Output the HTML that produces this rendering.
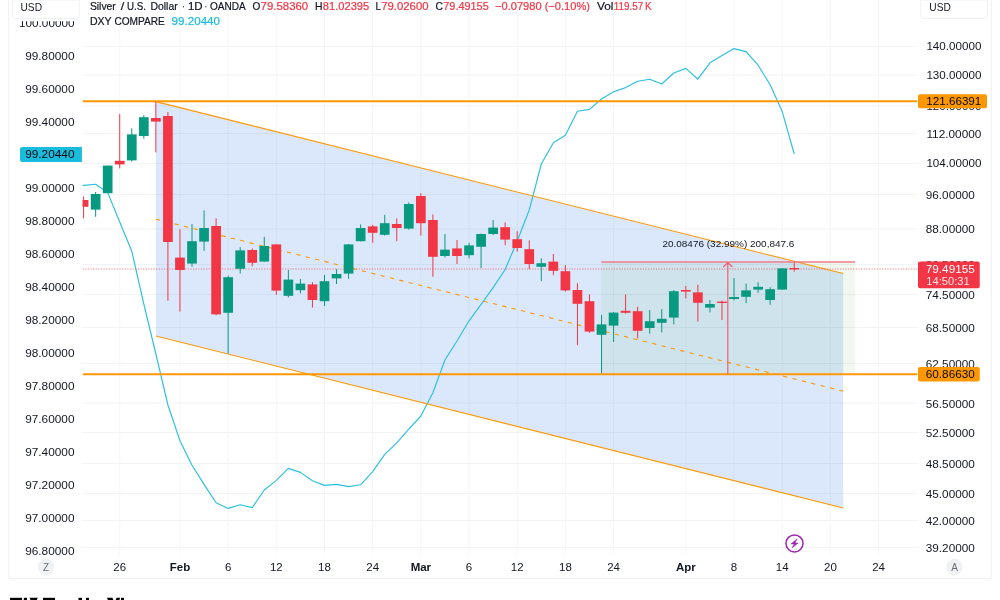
<!DOCTYPE html>
<html><head><meta charset="utf-8"><title>Chart</title>
<style>html,body{margin:0;padding:0;background:#fff;width:1000px;height:600px;overflow:hidden;font-family:"Liberation Sans",sans-serif}</style>
</head><body>
<div style="position:absolute;left:0;top:0;width:1000px;height:600px;will-change:transform;transform:translateZ(0)">
<svg width="1000" height="600" viewBox="0 0 1000 600" style="position:absolute;left:0;top:0;font-family:'Liberation Sans',sans-serif">
<defs><clipPath id="pane"><rect x="82.5" y="0" width="835.0" height="554.5"/></clipPath></defs>
<path d="M8.75 0V578.5H991.25V0" fill="none" stroke="#eff0f3" stroke-width="1"/>
<path d="M82.5 46.5H917.5M82.5 75H917.5M82.5 106H917.5M82.5 133.5H917.5M82.5 163.5H917.5M82.5 194.5H917.5M82.5 229H917.5M82.5 264.5H917.5M82.5 294.5H917.5M82.5 327.5H917.5M82.5 363.5H917.5M82.5 403H917.5M82.5 432.5H917.5M82.5 463.5H917.5M82.5 493.5H917.5M82.5 520.5H917.5M82.5 547.5H917.5" stroke="#f2f3f3" stroke-width="1" fill="none"/>
<path d="M119.73 0V554.5M179.96 0V554.5M228.14 0V554.5M276.32 0V554.5M324.50 0V554.5M372.68 0V554.5M420.86 0V554.5M469.04 0V554.5M517.22 0V554.5M565.40 0V554.5M613.58 0V554.5M685.85 0V554.5M734.03 0V554.5M782.21 0V554.5M830.39 0V554.5M878.57 0V554.5" stroke="#f5f6f6" stroke-width="1" fill="none"/>
<g clip-path="url(#pane)">
<polygon points="155.9,101.6 843.2,273.56 843.2,507.96 155.9,336.0" fill="rgba(40,120,240,0.17)"/>
<rect x="601.3" y="262.0" width="253.9000000000001" height="112.19999999999999" fill="rgba(76,175,80,0.085)"/>
<polyline points="71.55,186.6 83.60,185.40 95.64,184.30 107.69,192.60 119.73,222.00 131.78,251.20 143.82,304.00 155.87,354.00 167.91,405.00 179.96,440.80 192.00,465.20 204.05,484.40 216.09,502.80 228.14,508.40 240.19,504.80 252.23,507.60 264.27,490.00 276.32,480.40 288.37,468.40 300.41,472.40 312.45,480.80 324.50,485.40 336.54,484.40 348.59,486.60 360.63,484.80 372.68,471.60 384.73,454.40 396.77,442.80 408.81,429.20 420.86,416.00 432.90,392.80 444.95,360.00 457.00,341.00 469.04,320.80 481.09,304.40 493.13,287.60 505.17,269.50 517.22,241.00 529.26,210.00 541.31,164.00 553.36,142.80 565.40,135.20 577.44,111.20 589.49,109.40 601.53,99.00 613.58,91.80 625.62,87.60 637.67,81.20 649.72,79.20 661.76,84.00 673.81,73.00 685.85,68.40 697.89,79.20 709.94,62.80 721.99,55.40 734.03,48.60 746.08,51.60 758.12,65.20 770.16,84.80 782.21,111.60 794.25,154.00" fill="none" stroke="#2ac0de" stroke-width="1.15" stroke-linejoin="round"/>
<line x1="155.9" y1="101.6" x2="843.2" y2="273.56" stroke="#ff9800" stroke-width="1.1"/>
<line x1="155.9" y1="336.0" x2="843.2" y2="507.96" stroke="#ff9800" stroke-width="1.1"/>
<line x1="155.9" y1="219.2" x2="843.2" y2="391.16" stroke="#ff9800" stroke-width="1.1" stroke-dasharray="4.3 5.35"/>
<line x1="82.5" y1="101.2" x2="917.5" y2="101.2" stroke="#ff9800" stroke-width="2"/>
<line x1="82.5" y1="374.2" x2="917.5" y2="374.2" stroke="#ff9800" stroke-width="2"/>
<line x1="82.5" y1="269" x2="917.5" y2="269" stroke="#f23645" stroke-width="1" stroke-dasharray="1.3 1.33" opacity="0.6"/>
<line x1="83.60" y1="196.4" x2="83.60" y2="218.4" stroke="#f23645" stroke-width="1"/>
<rect x="78.75" y="200" width="9.7" height="6.80" fill="#f23645"/>
<line x1="95.64" y1="192" x2="95.64" y2="216.8" stroke="#089981" stroke-width="1"/>
<rect x="90.80" y="194" width="9.7" height="15.60" fill="#089981"/>
<line x1="107.69" y1="165.6" x2="107.69" y2="193.2" stroke="#089981" stroke-width="1"/>
<rect x="102.84" y="165.6" width="9.7" height="27.60" fill="#089981"/>
<line x1="119.73" y1="114" x2="119.73" y2="168.4" stroke="#f23645" stroke-width="1"/>
<rect x="114.88" y="160.8" width="9.7" height="3.60" fill="#f23645"/>
<line x1="131.78" y1="128.4" x2="131.78" y2="161.6" stroke="#089981" stroke-width="1"/>
<rect x="126.93" y="134.4" width="9.7" height="26.00" fill="#089981"/>
<line x1="143.82" y1="115.2" x2="143.82" y2="138.8" stroke="#089981" stroke-width="1"/>
<rect x="138.97" y="117.2" width="9.7" height="18.80" fill="#089981"/>
<line x1="155.87" y1="101.6" x2="155.87" y2="152.4" stroke="#f23645" stroke-width="1"/>
<rect x="151.02" y="118" width="9.7" height="3.60" fill="#f23645"/>
<line x1="167.91" y1="112" x2="167.91" y2="300.8" stroke="#f23645" stroke-width="1"/>
<rect x="163.06" y="116" width="9.7" height="126.00" fill="#f23645"/>
<line x1="179.96" y1="229.2" x2="179.96" y2="311.6" stroke="#f23645" stroke-width="1"/>
<rect x="175.11" y="257.6" width="9.7" height="12.40" fill="#f23645"/>
<line x1="192.00" y1="224" x2="192.00" y2="266.8" stroke="#089981" stroke-width="1"/>
<rect x="187.16" y="241.2" width="9.7" height="22.40" fill="#089981"/>
<line x1="204.05" y1="210.4" x2="204.05" y2="250.8" stroke="#089981" stroke-width="1"/>
<rect x="199.20" y="228" width="9.7" height="13.60" fill="#089981"/>
<line x1="216.09" y1="218.4" x2="216.09" y2="315.2" stroke="#f23645" stroke-width="1"/>
<rect x="211.25" y="226" width="9.7" height="88.40" fill="#f23645"/>
<line x1="228.14" y1="275.6" x2="228.14" y2="353.6" stroke="#089981" stroke-width="1"/>
<rect x="223.29" y="277.2" width="9.7" height="35.60" fill="#089981"/>
<line x1="240.19" y1="247.2" x2="240.19" y2="273.6" stroke="#089981" stroke-width="1"/>
<rect x="235.34" y="250.4" width="9.7" height="18.40" fill="#089981"/>
<line x1="252.23" y1="248.4" x2="252.23" y2="266.4" stroke="#f23645" stroke-width="1"/>
<rect x="247.38" y="250" width="9.7" height="12.80" fill="#f23645"/>
<line x1="264.27" y1="236.8" x2="264.27" y2="261.6" stroke="#089981" stroke-width="1"/>
<rect x="259.42" y="246" width="9.7" height="15.60" fill="#089981"/>
<line x1="276.32" y1="244.4" x2="276.32" y2="294.8" stroke="#f23645" stroke-width="1"/>
<rect x="271.47" y="244.4" width="9.7" height="46.20" fill="#f23645"/>
<line x1="288.37" y1="270" x2="288.37" y2="297.4" stroke="#089981" stroke-width="1"/>
<rect x="283.51" y="279.6" width="9.7" height="16.20" fill="#089981"/>
<line x1="300.41" y1="279" x2="300.41" y2="293.4" stroke="#089981" stroke-width="1"/>
<rect x="295.56" y="283.6" width="9.7" height="6.60" fill="#089981"/>
<line x1="312.45" y1="282.2" x2="312.45" y2="307.6" stroke="#f23645" stroke-width="1"/>
<rect x="307.60" y="284.4" width="9.7" height="15.60" fill="#f23645"/>
<line x1="324.50" y1="274.8" x2="324.50" y2="306" stroke="#089981" stroke-width="1"/>
<rect x="319.65" y="281.2" width="9.7" height="20.00" fill="#089981"/>
<line x1="336.54" y1="269.2" x2="336.54" y2="284" stroke="#089981" stroke-width="1"/>
<rect x="331.69" y="274" width="9.7" height="4.40" fill="#089981"/>
<line x1="348.59" y1="244" x2="348.59" y2="278.8" stroke="#089981" stroke-width="1"/>
<rect x="343.74" y="244.4" width="9.7" height="29.20" fill="#089981"/>
<line x1="360.63" y1="224.4" x2="360.63" y2="241.6" stroke="#089981" stroke-width="1"/>
<rect x="355.78" y="228" width="9.7" height="13.20" fill="#089981"/>
<line x1="372.68" y1="224.8" x2="372.68" y2="242.8" stroke="#f23645" stroke-width="1"/>
<rect x="367.83" y="226.4" width="9.7" height="6.40" fill="#f23645"/>
<line x1="384.73" y1="214.8" x2="384.73" y2="235.6" stroke="#089981" stroke-width="1"/>
<rect x="379.88" y="223.2" width="9.7" height="11.60" fill="#089981"/>
<line x1="396.77" y1="218.4" x2="396.77" y2="241.2" stroke="#f23645" stroke-width="1"/>
<rect x="391.92" y="224" width="9.7" height="4.00" fill="#f23645"/>
<line x1="408.81" y1="202.4" x2="408.81" y2="229.6" stroke="#089981" stroke-width="1"/>
<rect x="403.96" y="204" width="9.7" height="24.60" fill="#089981"/>
<line x1="420.86" y1="193.2" x2="420.86" y2="235.6" stroke="#f23645" stroke-width="1"/>
<rect x="416.01" y="196" width="9.7" height="27.20" fill="#f23645"/>
<line x1="432.90" y1="214.4" x2="432.90" y2="276.8" stroke="#f23645" stroke-width="1"/>
<rect x="428.05" y="220" width="9.7" height="36.80" fill="#f23645"/>
<line x1="444.95" y1="234" x2="444.95" y2="257.6" stroke="#089981" stroke-width="1"/>
<rect x="440.10" y="249.6" width="9.7" height="6.40" fill="#089981"/>
<line x1="457.00" y1="240" x2="457.00" y2="264" stroke="#f23645" stroke-width="1"/>
<rect x="452.14" y="248.4" width="9.7" height="7.60" fill="#f23645"/>
<line x1="469.04" y1="242.8" x2="469.04" y2="258.4" stroke="#089981" stroke-width="1"/>
<rect x="464.19" y="245.4" width="9.7" height="9.80" fill="#089981"/>
<line x1="481.09" y1="233.6" x2="481.09" y2="268" stroke="#089981" stroke-width="1"/>
<rect x="476.24" y="234" width="9.7" height="12.80" fill="#089981"/>
<line x1="493.13" y1="220" x2="493.13" y2="235.2" stroke="#089981" stroke-width="1"/>
<rect x="488.28" y="227.6" width="9.7" height="6.40" fill="#089981"/>
<line x1="505.17" y1="222.4" x2="505.17" y2="245.2" stroke="#f23645" stroke-width="1"/>
<rect x="500.32" y="227.2" width="9.7" height="12.40" fill="#f23645"/>
<line x1="517.22" y1="231.2" x2="517.22" y2="251.6" stroke="#f23645" stroke-width="1"/>
<rect x="512.37" y="239.2" width="9.7" height="8.80" fill="#f23645"/>
<line x1="529.26" y1="240.4" x2="529.26" y2="269.2" stroke="#f23645" stroke-width="1"/>
<rect x="524.41" y="249.2" width="9.7" height="14.80" fill="#f23645"/>
<line x1="541.31" y1="258.4" x2="541.31" y2="281.2" stroke="#089981" stroke-width="1"/>
<rect x="536.46" y="263.2" width="9.7" height="3.60" fill="#089981"/>
<line x1="553.36" y1="254" x2="553.36" y2="275.2" stroke="#f23645" stroke-width="1"/>
<rect x="548.50" y="261.6" width="9.7" height="9.20" fill="#f23645"/>
<line x1="565.40" y1="265.2" x2="565.40" y2="291.6" stroke="#f23645" stroke-width="1"/>
<rect x="560.55" y="271.2" width="9.7" height="19.20" fill="#f23645"/>
<line x1="577.44" y1="283.2" x2="577.44" y2="345.2" stroke="#f23645" stroke-width="1"/>
<rect x="572.59" y="290" width="9.7" height="13.80" fill="#f23645"/>
<line x1="589.49" y1="294.4" x2="589.49" y2="332.8" stroke="#f23645" stroke-width="1"/>
<rect x="584.64" y="301.2" width="9.7" height="30.40" fill="#f23645"/>
<line x1="601.53" y1="314.8" x2="601.53" y2="373.2" stroke="#089981" stroke-width="1"/>
<rect x="596.68" y="324.4" width="9.7" height="10.40" fill="#089981"/>
<line x1="613.58" y1="312" x2="613.58" y2="342" stroke="#089981" stroke-width="1"/>
<rect x="608.73" y="312.6" width="9.7" height="13.00" fill="#089981"/>
<line x1="625.62" y1="294.4" x2="625.62" y2="313.6" stroke="#f23645" stroke-width="1"/>
<rect x="620.77" y="310.8" width="9.7" height="2.00" fill="#f23645"/>
<line x1="637.67" y1="306.8" x2="637.67" y2="338.4" stroke="#f23645" stroke-width="1"/>
<rect x="632.82" y="311.2" width="9.7" height="19.60" fill="#f23645"/>
<line x1="649.72" y1="310" x2="649.72" y2="333.6" stroke="#089981" stroke-width="1"/>
<rect x="644.87" y="321.2" width="9.7" height="6.80" fill="#089981"/>
<line x1="661.76" y1="309.2" x2="661.76" y2="332.4" stroke="#089981" stroke-width="1"/>
<rect x="656.91" y="318.8" width="9.7" height="4.00" fill="#089981"/>
<line x1="673.81" y1="290" x2="673.81" y2="324.4" stroke="#089981" stroke-width="1"/>
<rect x="668.96" y="291.2" width="9.7" height="26.40" fill="#089981"/>
<line x1="685.85" y1="286" x2="685.85" y2="298.4" stroke="#f23645" stroke-width="1"/>
<rect x="681.00" y="290" width="9.7" height="1.60" fill="#f23645"/>
<line x1="697.89" y1="284.8" x2="697.89" y2="321.6" stroke="#f23645" stroke-width="1"/>
<rect x="693.04" y="292.4" width="9.7" height="10.40" fill="#f23645"/>
<line x1="709.94" y1="300" x2="709.94" y2="312.4" stroke="#089981" stroke-width="1"/>
<rect x="705.09" y="304" width="9.7" height="3.60" fill="#089981"/>
<line x1="721.99" y1="300.6" x2="721.99" y2="320" stroke="#f23645" stroke-width="1"/>
<rect x="717.13" y="301.6" width="9.7" height="1.40" fill="#f23645"/>
<line x1="734.03" y1="278" x2="734.03" y2="300.4" stroke="#089981" stroke-width="1"/>
<rect x="729.18" y="297" width="9.7" height="2.00" fill="#089981"/>
<line x1="746.08" y1="283.6" x2="746.08" y2="303.2" stroke="#089981" stroke-width="1"/>
<rect x="741.23" y="290.4" width="9.7" height="6.40" fill="#089981"/>
<line x1="758.12" y1="282.4" x2="758.12" y2="292.8" stroke="#089981" stroke-width="1"/>
<rect x="753.27" y="286.8" width="9.7" height="2.80" fill="#089981"/>
<line x1="770.16" y1="287.2" x2="770.16" y2="304.8" stroke="#089981" stroke-width="1"/>
<rect x="765.31" y="289.2" width="9.7" height="10.80" fill="#089981"/>
<line x1="782.21" y1="268" x2="782.21" y2="289.6" stroke="#089981" stroke-width="1"/>
<rect x="777.36" y="268.4" width="9.7" height="21.20" fill="#089981"/>
<line x1="794.25" y1="261" x2="794.25" y2="271.6" stroke="#f23645" stroke-width="1"/>
<rect x="789.40" y="268" width="9.7" height="1.40" fill="#f23645"/>
<line x1="601.3" y1="262.0" x2="855.2" y2="262.0" stroke="#f07d88" stroke-width="1.6"/>
<path d="M727.8 374.2V262.5 M723.1999999999999 267.0L727.8 262.5L732.4 267.0" fill="none" stroke="#f0606c" stroke-width="1.2"/>
</g>
<text x="728.4" y="246.8" font-size="9.6" fill="#131722" text-anchor="middle" textLength="132" lengthAdjust="spacingAndGlyphs">20.08476 (32.99%) 200,847.6</text>
<g transform="translate(794.5 543.4)"><circle r="8.5" fill="#fff" stroke="#9c27b0" stroke-width="1.5"/><path d="M2.6-4.5L-3.6 0.5H-0.3L-2.6 4.5L3.6-0.3H0.5Z" fill="#9c27b0" stroke="#9c27b0" stroke-width="0.5" stroke-linejoin="round"/></g>
<text x="74.5" y="26.6" font-size="11" fill="#131722" text-anchor="end" font-weight="normal" textLength="55.5" lengthAdjust="spacingAndGlyphs">100.00000</text>
<text x="74.5" y="59.6" font-size="11" fill="#131722" text-anchor="end" font-weight="normal" textLength="49.3" lengthAdjust="spacingAndGlyphs">99.80000</text>
<text x="74.5" y="92.6" font-size="11" fill="#131722" text-anchor="end" font-weight="normal" textLength="49.3" lengthAdjust="spacingAndGlyphs">99.60000</text>
<text x="74.5" y="125.6" font-size="11" fill="#131722" text-anchor="end" font-weight="normal" textLength="49.3" lengthAdjust="spacingAndGlyphs">99.40000</text>
<text x="74.5" y="158.6" font-size="11" fill="#131722" text-anchor="end" font-weight="normal" textLength="49.3" lengthAdjust="spacingAndGlyphs">99.20000</text>
<text x="74.5" y="191.6" font-size="11" fill="#131722" text-anchor="end" font-weight="normal" textLength="49.3" lengthAdjust="spacingAndGlyphs">99.00000</text>
<text x="74.5" y="224.6" font-size="11" fill="#131722" text-anchor="end" font-weight="normal" textLength="49.3" lengthAdjust="spacingAndGlyphs">98.80000</text>
<text x="74.5" y="257.6" font-size="11" fill="#131722" text-anchor="end" font-weight="normal" textLength="49.3" lengthAdjust="spacingAndGlyphs">98.60000</text>
<text x="74.5" y="290.6" font-size="11" fill="#131722" text-anchor="end" font-weight="normal" textLength="49.3" lengthAdjust="spacingAndGlyphs">98.40000</text>
<text x="74.5" y="323.6" font-size="11" fill="#131722" text-anchor="end" font-weight="normal" textLength="49.3" lengthAdjust="spacingAndGlyphs">98.20000</text>
<text x="74.5" y="356.6" font-size="11" fill="#131722" text-anchor="end" font-weight="normal" textLength="49.3" lengthAdjust="spacingAndGlyphs">98.00000</text>
<text x="74.5" y="389.6" font-size="11" fill="#131722" text-anchor="end" font-weight="normal" textLength="49.3" lengthAdjust="spacingAndGlyphs">97.80000</text>
<text x="74.5" y="422.6" font-size="11" fill="#131722" text-anchor="end" font-weight="normal" textLength="49.3" lengthAdjust="spacingAndGlyphs">97.60000</text>
<text x="74.5" y="455.6" font-size="11" fill="#131722" text-anchor="end" font-weight="normal" textLength="49.3" lengthAdjust="spacingAndGlyphs">97.40000</text>
<text x="74.5" y="488.6" font-size="11" fill="#131722" text-anchor="end" font-weight="normal" textLength="49.3" lengthAdjust="spacingAndGlyphs">97.20000</text>
<text x="74.5" y="521.6" font-size="11" fill="#131722" text-anchor="end" font-weight="normal" textLength="49.3" lengthAdjust="spacingAndGlyphs">97.00000</text>
<text x="74.5" y="554.6" font-size="11" fill="#131722" text-anchor="end" font-weight="normal" textLength="49.3" lengthAdjust="spacingAndGlyphs">96.80000</text>
<rect x="10" y="0" width="72" height="21.2" fill="#fff"/>
<path d="M12.25 0V15.5a3 3 0 0 0 3 3H76.25a3 3 0 0 0 3-3V0Z" fill="#fff" stroke="#f0f1f4" stroke-width="1"/>
<text x="20.5" y="10.9" font-size="10.5" fill="#131722" text-anchor="start" font-weight="normal" textLength="21.5" lengthAdjust="spacingAndGlyphs">USD</text>
<path d="M81.9 147H22.5a2.5 2.5 0 0 0-2.5 2.5V159.5a2.5 2.5 0 0 0 2.5 2.5H81.9Z" fill="#19bcdc"/>
<text x="74.5" y="158.2" font-size="11" fill="#06080c" text-anchor="end" font-weight="normal" textLength="49.3" lengthAdjust="spacingAndGlyphs">99.20440</text>
<text x="926.4" y="49.8" font-size="11" fill="#131722" text-anchor="start" font-weight="normal" textLength="55" lengthAdjust="spacingAndGlyphs">140.00000</text>
<text x="926.4" y="79.0" font-size="11" fill="#131722" text-anchor="start" font-weight="normal" textLength="55" lengthAdjust="spacingAndGlyphs">130.00000</text>
<text x="926.4" y="110.0" font-size="11" fill="#131722" text-anchor="start" font-weight="normal" textLength="55" lengthAdjust="spacingAndGlyphs">120.00000</text>
<text x="926.4" y="138.0" font-size="11" fill="#131722" text-anchor="start" font-weight="normal" textLength="55" lengthAdjust="spacingAndGlyphs">112.00000</text>
<text x="926.4" y="167.0" font-size="11" fill="#131722" text-anchor="start" font-weight="normal" textLength="55" lengthAdjust="spacingAndGlyphs">104.00000</text>
<text x="925.8" y="198.6" font-size="11" fill="#131722" text-anchor="start" font-weight="normal" textLength="49" lengthAdjust="spacingAndGlyphs">96.00000</text>
<text x="925.8" y="233.2" font-size="11" fill="#131722" text-anchor="start" font-weight="normal" textLength="49" lengthAdjust="spacingAndGlyphs">88.00000</text>
<text x="925.8" y="268.6" font-size="11" fill="#131722" text-anchor="start" font-weight="normal" textLength="49" lengthAdjust="spacingAndGlyphs">80.50000</text>
<text x="925.8" y="298.8" font-size="11" fill="#131722" text-anchor="start" font-weight="normal" textLength="49" lengthAdjust="spacingAndGlyphs">74.50000</text>
<text x="925.8" y="331.7" font-size="11" fill="#131722" text-anchor="start" font-weight="normal" textLength="49" lengthAdjust="spacingAndGlyphs">68.50000</text>
<text x="925.8" y="367.7" font-size="11" fill="#131722" text-anchor="start" font-weight="normal" textLength="49" lengthAdjust="spacingAndGlyphs">62.50000</text>
<text x="925.8" y="407.5" font-size="11" fill="#131722" text-anchor="start" font-weight="normal" textLength="49" lengthAdjust="spacingAndGlyphs">56.50000</text>
<text x="925.8" y="436.8" font-size="11" fill="#131722" text-anchor="start" font-weight="normal" textLength="49" lengthAdjust="spacingAndGlyphs">52.50000</text>
<text x="925.8" y="467.9" font-size="11" fill="#131722" text-anchor="start" font-weight="normal" textLength="49" lengthAdjust="spacingAndGlyphs">48.50000</text>
<text x="925.8" y="497.9" font-size="11" fill="#131722" text-anchor="start" font-weight="normal" textLength="49" lengthAdjust="spacingAndGlyphs">45.00000</text>
<text x="925.8" y="524.9" font-size="11" fill="#131722" text-anchor="start" font-weight="normal" textLength="49" lengthAdjust="spacingAndGlyphs">42.00000</text>
<text x="925.8" y="552.1" font-size="11" fill="#131722" text-anchor="start" font-weight="normal" textLength="49" lengthAdjust="spacingAndGlyphs">39.20000</text>
<path d="M920.75 0V15.5a3 3 0 0 0 3 3H984.5a3 3 0 0 0 3-3V0Z" fill="#fff" stroke="#f0f1f4" stroke-width="1"/>
<text x="929.3" y="10.9" font-size="10.5" fill="#131722" text-anchor="start" font-weight="normal" textLength="21.5" lengthAdjust="spacingAndGlyphs">USD</text>
<rect x="918" y="94.25" width="69" height="14" rx="2" fill="#ff9800"/>
<text x="926.3" y="105.3" font-size="11" fill="#06080c" text-anchor="start" font-weight="normal" textLength="55" lengthAdjust="spacingAndGlyphs">121.66391</text>
<rect x="918" y="367" width="61.75" height="14.5" rx="2" fill="#ff9800"/>
<text x="925.8" y="378.2" font-size="11" fill="#06080c" text-anchor="start" font-weight="normal" textLength="49" lengthAdjust="spacingAndGlyphs">60.86630</text>
<rect x="918" y="261.5" width="61.75" height="26.75" rx="2" fill="#f23645"/>
<text x="925.8" y="273.3" font-size="11" fill="#fff" text-anchor="start" font-weight="normal" textLength="49" lengthAdjust="spacingAndGlyphs">79.49155</text>
<text x="926.3" y="284.8" font-size="11" fill="#fff" text-anchor="start" font-weight="normal" textLength="43.5" lengthAdjust="spacingAndGlyphs" opacity="0.85">14:50:31</text>
<text x="119.73" y="571.0" font-size="11.5" fill="#131722" text-anchor="middle" font-weight="normal">26</text>
<text x="179.96" y="571.0" font-size="11.5" fill="#131722" text-anchor="middle" font-weight="bold">Feb</text>
<text x="228.14" y="571.0" font-size="11.5" fill="#131722" text-anchor="middle" font-weight="normal">6</text>
<text x="276.32" y="571.0" font-size="11.5" fill="#131722" text-anchor="middle" font-weight="normal">12</text>
<text x="324.50" y="571.0" font-size="11.5" fill="#131722" text-anchor="middle" font-weight="normal">18</text>
<text x="372.68" y="571.0" font-size="11.5" fill="#131722" text-anchor="middle" font-weight="normal">24</text>
<text x="420.86" y="571.0" font-size="11.5" fill="#131722" text-anchor="middle" font-weight="bold">Mar</text>
<text x="469.04" y="571.0" font-size="11.5" fill="#131722" text-anchor="middle" font-weight="normal">6</text>
<text x="517.22" y="571.0" font-size="11.5" fill="#131722" text-anchor="middle" font-weight="normal">12</text>
<text x="565.40" y="571.0" font-size="11.5" fill="#131722" text-anchor="middle" font-weight="normal">18</text>
<text x="613.58" y="571.0" font-size="11.5" fill="#131722" text-anchor="middle" font-weight="normal">24</text>
<text x="685.85" y="571.0" font-size="11.5" fill="#131722" text-anchor="middle" font-weight="bold">Apr</text>
<text x="734.03" y="571.0" font-size="11.5" fill="#131722" text-anchor="middle" font-weight="normal">8</text>
<text x="782.21" y="571.0" font-size="11.5" fill="#131722" text-anchor="middle" font-weight="normal">14</text>
<text x="830.39" y="571.0" font-size="11.5" fill="#131722" text-anchor="middle" font-weight="normal">20</text>
<text x="878.57" y="571.0" font-size="11.5" fill="#131722" text-anchor="middle" font-weight="normal">24</text>
<circle cx="46" cy="567" r="8.2" fill="#f0f1f3"/>
<text x="46" y="570.6" font-size="10" fill="#6a6d78" text-anchor="middle" font-weight="normal">Z</text>
<circle cx="954.5" cy="567" r="8.2" fill="#f0f1f3"/>
<text x="954.5" y="570.6" font-size="10" fill="#6a6d78" text-anchor="middle" font-weight="normal">A</text>
<text x="89.9" y="10.3" font-size="11.2" fill="#131722" stroke="#131722" stroke-width="0.22" textLength="25.9" lengthAdjust="spacingAndGlyphs">Silver</text>
<text x="120.7" y="10.3" font-size="11.2" fill="#131722" stroke="#131722" stroke-width="0.22" textLength="3.5" lengthAdjust="spacingAndGlyphs">/</text>
<text x="127.0" y="10.3" font-size="11.2" fill="#131722" stroke="#131722" stroke-width="0.22" textLength="18.9" lengthAdjust="spacingAndGlyphs">U.S.</text>
<text x="150.5" y="10.3" font-size="11.2" fill="#131722" stroke="#131722" stroke-width="0.22" textLength="27.2" lengthAdjust="spacingAndGlyphs">Dollar</text>
<text x="182.4" y="10.3" font-size="11.2" fill="#131722" stroke="#131722" stroke-width="0.22" textLength="2.2" lengthAdjust="spacingAndGlyphs">·</text>
<text x="187.9" y="10.3" font-size="11.2" fill="#131722" stroke="#131722" stroke-width="0.22" textLength="14.7" lengthAdjust="spacingAndGlyphs">1D</text>
<text x="204.7" y="10.3" font-size="11.2" fill="#131722" stroke="#131722" stroke-width="0.22" textLength="2.2" lengthAdjust="spacingAndGlyphs">·</text>
<text x="210" y="10.3" font-size="11.2" fill="#131722" stroke="#131722" stroke-width="0.22" textLength="35.7" lengthAdjust="spacingAndGlyphs">OANDA</text>
<text x="252.6" y="10.3" font-size="11.2" fill="#131722" stroke="#131722" stroke-width="0.22" textLength="7.8" lengthAdjust="spacingAndGlyphs">O</text>
<text x="260.6" y="10.3" font-size="11.2" fill="#f23645" stroke="#f23645" stroke-width="0.22" textLength="47.6" lengthAdjust="spacingAndGlyphs">79.58360</text>
<text x="315" y="10.3" font-size="11.2" fill="#131722" stroke="#131722" stroke-width="0.22" textLength="7.5" lengthAdjust="spacingAndGlyphs">H</text>
<text x="322.8" y="10.3" font-size="11.2" fill="#f23645" stroke="#f23645" stroke-width="0.22" textLength="46.4" lengthAdjust="spacingAndGlyphs">81.02395</text>
<text x="375.4" y="10.3" font-size="11.2" fill="#131722" stroke="#131722" stroke-width="0.22" textLength="5.5" lengthAdjust="spacingAndGlyphs">L</text>
<text x="381.2" y="10.3" font-size="11.2" fill="#f23645" stroke="#f23645" stroke-width="0.22" textLength="47.4" lengthAdjust="spacingAndGlyphs">79.02600</text>
<text x="435.5" y="10.3" font-size="11.2" fill="#131722" stroke="#131722" stroke-width="0.22" textLength="7.5" lengthAdjust="spacingAndGlyphs">C</text>
<text x="443.3" y="10.3" font-size="11.2" fill="#f23645" stroke="#f23645" stroke-width="0.22" textLength="45.4" lengthAdjust="spacingAndGlyphs">79.49155</text>
<text x="495" y="10.3" font-size="11.2" fill="#f23645" stroke="#f23645" stroke-width="0.22" textLength="95" lengthAdjust="spacingAndGlyphs">−0.07980 (−0.10%)</text>
<text x="597" y="10.3" font-size="11.2" fill="#131722" stroke="#131722" stroke-width="0.22" textLength="16.5" lengthAdjust="spacingAndGlyphs">Vol</text>
<text x="613.7" y="10.3" font-size="11.2" fill="#f23645" stroke="#f23645" stroke-width="0.22" textLength="38" lengthAdjust="spacingAndGlyphs">119.57 K</text>
<text x="89.9" y="24.6" font-size="11.2" fill="#131722" stroke="#131722" stroke-width="0.22" textLength="21.7" lengthAdjust="spacingAndGlyphs">DXY</text>
<text x="114.4" y="24.6" font-size="11.2" fill="#131722" stroke="#131722" stroke-width="0.22" textLength="50.4" lengthAdjust="spacingAndGlyphs">COMPARE</text>
<text x="171.6" y="24.6" font-size="11.2" fill="#19bcdc" stroke="#19bcdc" stroke-width="0.22" textLength="48.4" lengthAdjust="spacingAndGlyphs">99.20440</text>
<g fill="#000">
<rect x="10" y="597.8" width="12" height="3"/>
<rect x="23.8" y="597.8" width="3.1999999999999993" height="3"/>
<rect x="43" y="597.8" width="12" height="3"/>
<rect x="78.5" y="597.8" width="3.5" height="3"/>
<rect x="86" y="597.8" width="3" height="3"/>
<rect x="121" y="597.8" width="3" height="3"/>
<polygon points="29.5,597.8 37.8,597.8 36.8,600 30.5,600"/>
<polygon points="107,597.8 112.5,597.8 113.3,600 107.8,600"/>
<polygon points="116.5,597.8 120.2,597.8 119.4,600 115.7,600"/>
</g>
</svg>
</div>
</body></html>
